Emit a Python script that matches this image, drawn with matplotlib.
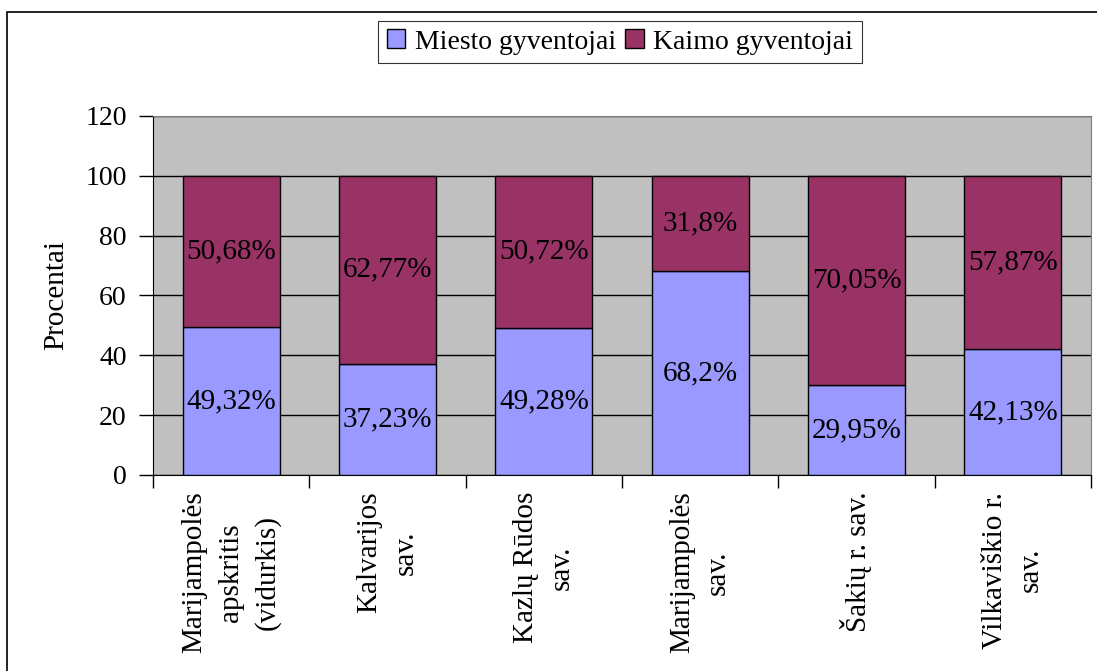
import matplotlib
matplotlib.use("Agg")
import matplotlib.pyplot as plt
import numpy as np

# --- duomenys ---
categories = [
    "Marijampolės\napskritis\n(vidurkis)",
    "Kalvarijos\nsav.",
    "Kazlų Rūdos\nsav.",
    "Marijampolės\nsav.",
    "Šakių r. sav.",
    "Vilkaviškio r.\nsav.",
]
miesto = [49.32, 37.23, 49.28, 68.2, 29.95, 42.13]
kaimo = [50.68, 62.77, 50.72, 31.8, 70.05, 57.87]
series_names = ["Miesto gyventojai", "Kaimo gyventojai"]
y_ticks = [0, 20, 40, 60, 80, 100, 120]

plt.rcParams["font.family"] = ["Liberation Serif", "DejaVu Serif"]

fig = plt.figure(figsize=(10.97, 6.71), dpi=100)
ax = fig.add_axes([153 / 1097, 1 - 475 / 671, (1091 - 153) / 1097, (475 - 116) / 671])
ax.set_facecolor("#C0C0C0")

x = np.arange(len(categories))
w = 0.62
b1 = ax.bar(x, miesto, w, color="#9999FF", edgecolor="black", linewidth=1, zorder=3,
            label=series_names[0])
b2 = ax.bar(x, kaimo, w, bottom=miesto, color="#993366", edgecolor="black", linewidth=1,
            zorder=3, label=series_names[1])

def fmt(v):
    return f"{v:g}".replace(".", ",") + "%"

for xi, m, k in zip(x, miesto, kaimo):
    ax.text(xi, m / 2, fmt(m), ha="center", va="center", fontsize=21, zorder=4)
    ax.text(xi, m + k / 2, fmt(k), ha="center", va="center", fontsize=21, zorder=4)

ax.set_xlim(-0.5, len(categories) - 0.5)
ax.set_ylim(0, 120)
ax.set_yticks(y_ticks)
ax.tick_params(axis="y", labelsize=20, length=10, width=1, direction="out", pad=9)
ax.yaxis.grid(True, color="black", linewidth=1, zorder=1)
ax.set_axisbelow(True)

ax.set_xticks(x)
ax.set_xticklabels(categories, rotation=90, fontsize=21, va="top", ha="center",
                   multialignment="center", linespacing=1.5)
ax.tick_params(axis="x", which="major", length=0, pad=12)
ax.set_xticks(np.arange(len(categories) + 1) - 0.5, minor=True)
ax.tick_params(axis="x", which="minor", length=9, width=1, direction="out")

ax.set_ylabel("Procentai", fontsize=21)
ax.yaxis.set_label_coords(-(153 - 69) / 938, 0.5)

for s in ["top", "right"]:
    ax.spines[s].set_color("#808080")
for s in ["left", "bottom"]:
    ax.spines[s].set_color("black")

leg = fig.legend(handles=[b1, b2], labels=series_names, loc="center",
                 bbox_to_anchor=(620 / 1097, 1 - 42 / 671), ncol=2, fontsize=20,
                 frameon=True, fancybox=False, edgecolor="black", handlelength=0.65,
                 handleheight=0.65, handletextpad=0.35, columnspacing=0.35,
                 borderpad=0.3, borderaxespad=0)
leg.get_frame().set_linewidth(0.8)

# rėmelis aplink diagramą
fig.patches.append(plt.Rectangle((7 / 1097, -0.05), 1.1, 1 - 12 / 671 + 0.05,
                                 transform=fig.transFigure, fill=False,
                                 edgecolor="black", linewidth=1.2))

fig.savefig("out.png", dpi=100)
